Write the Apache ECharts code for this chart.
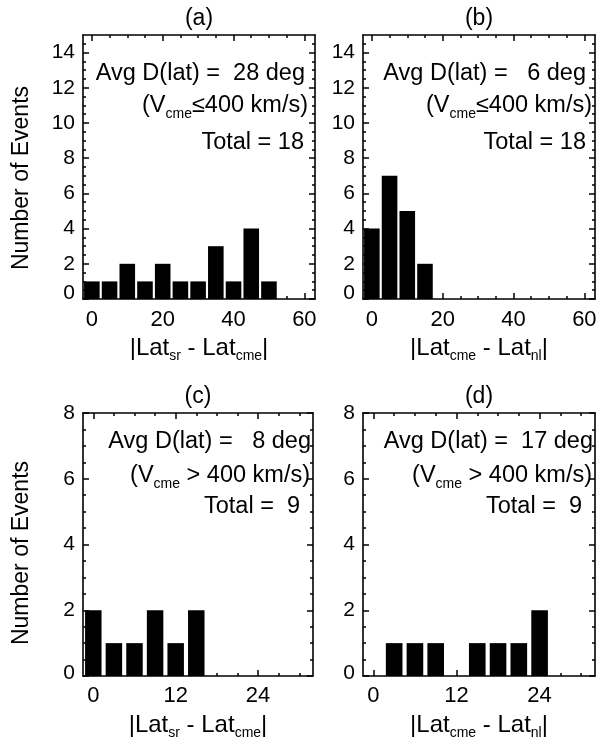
<!DOCTYPE html>
<html><head><meta charset="utf-8">
<script src="https://cdn.jsdelivr.net/npm/echarts@6/dist/echarts.min.js"></script>
<style>html,body{margin:0;padding:0;background:#fff}#c{width:601px;height:741px}</style>
</head><body><div id="c"></div>
<script>
// ---- data ----
const binsA = [0, 5, 10, 15, 20, 25, 30, 35, 40, 45, 50];
const countsA = [1, 1, 2, 1, 2, 1, 1, 3, 1, 4, 1];
const binsB = [0, 5, 10, 15];
const countsB = [4, 7, 5, 2];
const binsC = [0, 3, 6, 9, 12, 15];
const countsC = [2, 1, 1, 2, 1, 2];
const binsD = [3, 6, 9, 15, 18, 21, 24];
const countsD = [1, 1, 1, 1, 1, 1, 2];

const xMajorTop = [0, 20, 40, 60];
const xMinorTop = [5, 10, 15, 25, 30, 35, 45, 50, 55];
const xMajorBottom = [0, 12, 24];
const xMinorBottom = [3, 6, 9, 15, 18, 21, 27, 30];
const yMajorTop = [0, 2, 4, 6, 8, 10, 12, 14];
const yMajorBottom = [0, 2, 4, 6, 8];

const panelTitles = ['(a)', '(b)', '(c)', '(d)'];
const avgLines = ['Avg D(lat) =  28 deg', 'Avg D(lat) =   6 deg', 'Avg D(lat) =   8 deg', 'Avg D(lat) =  17 deg'];
const speedLines = ['(V{s|cme}≤400 km/s)', '(V{s|cme}≤400 km/s)', '(V{s|cme} > 400 km/s)', '(V{s|cme} > 400 km/s)'];
const totalLines = ['Total = 18', 'Total = 18', 'Total =  9', 'Total =  9'];
const xTitles = ['|Lat{s|sr} - Lat{s|cme}|', '|Lat{s|cme} - Lat{s|nl}|', '|Lat{s|sr} - Lat{s|cme}|', '|Lat{s|cme} - Lat{s|nl}|'];
const yTitle = 'Number of Events';

// ---- layout ----
const FONT = '"Liberation Sans", Arial, Helvetica, sans-serif';
const grids = [
  {left: 83, top: 35, width: 232, height: 264},
  {left: 363, top: 35, width: 232, height: 264},
  {left: 83, top: 413, width: 230, height: 263},
  {left: 363, top: 413, width: 232, height: 263}
];
const panels = [
  {bins: binsA, counts: countsA, xmin: -2.5, xmax: 63, ymax: 15, xMaj: xMajorTop, xMin: xMinorTop, yMaj: yMajorTop, bw: 4.4, zeroLift: 12},
  {bins: binsB, counts: countsB, xmin: -2.5, xmax: 63, ymax: 15, xMaj: xMajorTop, xMin: xMinorTop, yMaj: yMajorTop, bw: 4.4, zeroLift: 12},
  {bins: binsC, counts: countsC, xmin: -1.5, xmax: 32, ymax: 8, xMaj: xMajorBottom, xMin: xMinorBottom, yMaj: yMajorBottom, bw: 2.4, zeroLift: 6},
  {bins: binsD, counts: countsD, xmin: -1.5, xmax: 32, ymax: 8, xMaj: xMajorBottom, xMin: xMinorBottom, yMaj: yMajorBottom, bw: 2.4, zeroLift: 6}
];

function halfSteps(max, majors) {
  const out = [];
  for (let v = 0.5; v < max; v += 0.5) if (!majors.includes(v)) out.push(v);
  return out;
}

const xAxes = [], yAxes = [], series = [];
const tickLine = {color: '#000', width: 1.5};
const boxLine = {show: true, onZero: false, lineStyle: {color: '#000', width: 1.6}};
panels.forEach((p, i) => {
  const xbase = (pos, vals, len, labels, line, margin) => ({
    type: 'value', gridIndex: i, min: p.xmin, max: p.xmax, position: pos,
    axisLine: line ? boxLine : {show: false, onZero: false}, splitLine: {show: false},
    axisTick: {show: true, inside: true, length: len, lineStyle: tickLine, customValues: vals},
    axisLabel: labels ? {show: true, customValues: vals, color: '#000', fontSize: 22, fontFamily: FONT, margin: margin} : {show: false}
  });
  const xi = xAxes.length;
  xAxes.push(xbase('bottom', p.xMaj, 6, true, true, i < 2 ? 10 : 9));
  xAxes.push(xbase('bottom', p.xMin, 3, false, false));
  xAxes.push(xbase('top', p.xMaj, 6, false, true));
  xAxes.push(xbase('top', p.xMin, 3, false, false));
  const ybase = (pos, vals, len, labels, line) => ({
    type: 'value', gridIndex: i, min: 0, max: p.ymax, position: pos,
    axisLine: line ? boxLine : {show: false, onZero: false}, splitLine: {show: false},
    axisTick: {show: true, inside: true, length: len, lineStyle: tickLine, customValues: vals},
    axisLabel: labels ? {
      show: true, customValues: vals, color: '#000', fontSize: 21, fontFamily: FONT, margin: 8,
      formatter: v => (v === 0 ? '{z|0}' : String(v)),
      rich: {z: {fontSize: 21, fontFamily: FONT, color: '#000', padding: [0, 0, p.zeroLift, 0]}}
    } : {show: false}
  });
  const yi = yAxes.length;
  const yMinor = halfSteps(p.ymax, p.yMaj);
  yAxes.push(ybase('left', p.yMaj, 6, true, true));
  yAxes.push(ybase('left', yMinor, 3, false, false));
  yAxes.push(ybase('right', p.yMaj, 6, false, true));
  yAxes.push(ybase('right', yMinor, 3, false, false));
  const bw = p.bw;
  series.push({
    type: 'custom', xAxisIndex: xi, yAxisIndex: yi,
    data: p.bins.map((b, k) => [b, p.counts[k]]),
    encode: {x: 0, y: 1},
    renderItem: (params, api) => {
      const x = api.value(0), y = api.value(1);
      const a = api.coord([x - bw / 2, y]);
      const b = api.coord([x + bw / 2, 0]);
      return {type: 'rect', shape: {x: a[0], y: a[1], width: b[0] - a[0], height: b[1] - a[1]}, style: {fill: '#000'}};
    }
  });
});

const rich = {
  s: {fontSize: 14, fontFamily: FONT, fill: '#000', color: '#000', verticalAlign: 'bottom', lineHeight: 12}
};
function text(x, y, str, size, align, extra) {
  return Object.assign({
    type: 'text', x: x, y: y, z: 100,
    style: {text: str, fill: '#000', font: size + 'px ' + FONT, align: align, verticalAlign: 'middle', lineHeight: 30, rich: rich}
  }, extra || {});
}
const graphics = [];
const annot = [
  {r1: 305, r2: 308, r3: 304, y: [74, 106, 143]},
  {r1: 586, r2: 592, r3: 586, y: [74, 106, 143]},
  {r1: 311, r2: 310, r3: 300, y: [442, 476, 507]},
  {r1: 593, r2: 592, r3: 582, y: [442, 476, 507]}
];
grids.forEach((g, i) => {
  const cx = g.left + g.width / 2;
  graphics.push(text(cx, g.top - 16, panelTitles[i], 23, 'center'));
  graphics.push(text(cx, g.top + g.height + 49, xTitles[i], 24, 'center'));
  const a = annot[i];
  graphics.push(text(a.r1, a.y[0], avgLines[i], 23.5, 'right'));
  graphics.push(text(a.r2, a.y[1], speedLines[i], 23.5, 'right'));
  graphics.push(text(a.r3, a.y[2], totalLines[i], 23.5, 'right'));
});
graphics.push(text(22, 178, yTitle, 23, 'center', {rotation: Math.PI / 2}));
graphics.push(text(22, 553, yTitle, 23, 'center', {rotation: Math.PI / 2}));

const chart = echarts.init(document.getElementById('c'), null, {renderer: 'canvas'});
chart.setOption({
  animation: false,
  backgroundColor: '#fff',
  grid: grids.map(g => Object.assign({show: false, containLabel: false}, g)),
  xAxis: xAxes,
  yAxis: yAxes,
  series: series,
  graphic: graphics
});
</script>
</body></html>
